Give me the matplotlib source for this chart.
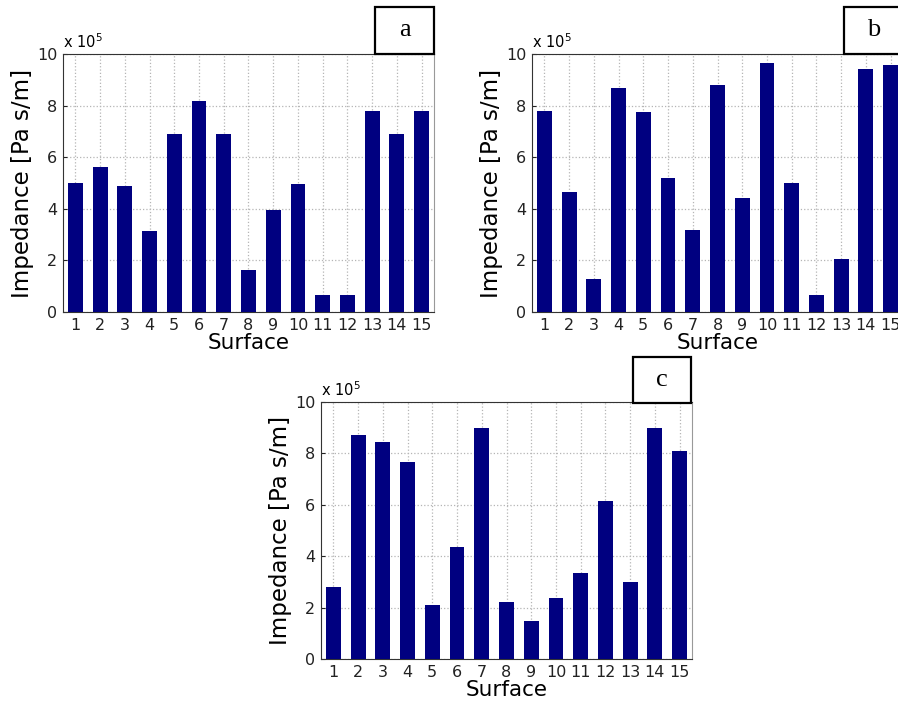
import matplotlib
matplotlib.use('Agg')
import matplotlib.pyplot as plt
from matplotlib.patches import Rectangle

surfaces = list(range(1, 16))
imp_a = [5.0, 5.63, 4.88, 3.15, 6.9, 8.19, 6.9, 1.64, 3.94, 4.97, 0.67, 0.65, 7.78, 6.9, 7.78]
imp_b = [7.8, 4.65, 1.29, 8.7, 7.75, 5.21, 3.19, 8.8, 4.41, 9.66, 5.01, 0.67, 2.04, 9.43, 9.57]
imp_c = [2.8, 8.73, 8.43, 7.68, 2.1, 4.36, 9.0, 2.22, 1.47, 2.39, 3.36, 6.15, 2.98, 9.0, 8.08]
yticks = [0, 2, 4, 6, 8, 10]

W, H = 898, 705
fig = plt.figure(figsize=(W / 100, H / 100), dpi=100)


def px_axes(left, top, right, bottom):
    return fig.add_axes([left / W, 1 - bottom / H, (right - left) / W, (bottom - top) / H])


def label_box(left, top, right, bottom, letter):
    fig.patches.append(Rectangle((left / W, 1 - bottom / H), (right - left) / W, (bottom - top) / H,
                                 transform=fig.transFigure, fill=True, facecolor='white',
                                 edgecolor='black', linewidth=1.6, zorder=10))
    fig.text((left + right) / 2 / W, 1 - (top + bottom) / 2 / H, letter, ha='center', va='center',
             fontsize=19, family='Liberation Serif', zorder=11)


def panel(ax, vals):
    ax.bar(surfaces, vals, width=0.6, color='#000080', zorder=3)
    ax.set_xlim(0.5, 15.5)
    ax.set_ylim(0, 10)
    ax.set_xticks(surfaces)
    ax.set_yticks(yticks)
    ax.tick_params(direction='in', length=3, labelsize=11.5, pad=4, colors='#222222')
    ax.grid(True, linestyle=':', color='#b5b5b5', linewidth=0.9, zorder=0)
    ax.set_xlabel('Surface', fontsize=15.5, labelpad=0)
    ax.set_ylabel('Impedance [Pa s/m]', fontsize=16.5, labelpad=2)
    for s in ['left', 'bottom', 'top']:
        ax.spines[s].set_color('#333333')
    ax.spines['right'].set_color('#999999')
    ax.text(0, 1.01, r'x 10$^5$', transform=ax.transAxes, fontsize=10.5, ha='left', va='bottom')


ax_a = px_axes(63, 54, 434, 312)
panel(ax_a, imp_a)
ax_b = px_axes(532, 54, 903, 312)
panel(ax_b, imp_b)
ax_c = px_axes(321, 402, 692, 659)
panel(ax_c, imp_c)

label_box(375, 7, 434, 54, 'a')
label_box(844, 7, 903, 54, 'b')
label_box(633, 357, 691, 403, 'c')

fig.savefig('out.png', dpi=100)
